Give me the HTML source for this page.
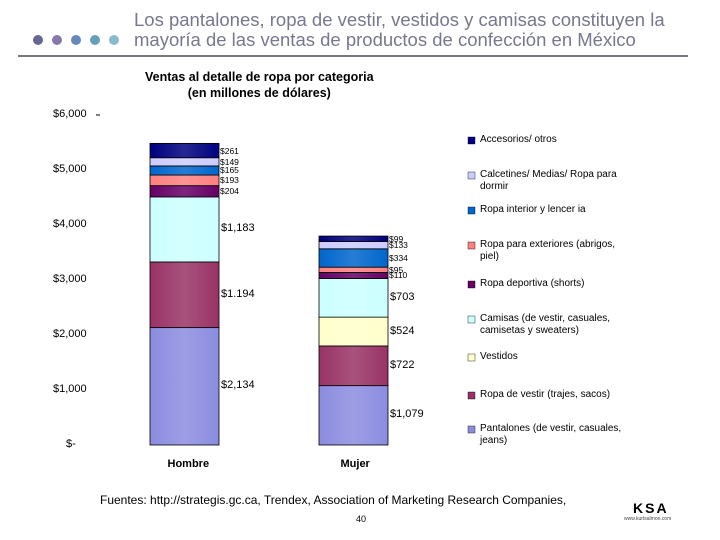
<!DOCTYPE html>
<html><head><meta charset="utf-8"><style>
body{margin:0;background:#fff;font-family:"Liberation Sans",sans-serif;}
#wrap{position:relative;width:720px;height:540px;overflow:hidden;}
.t{position:absolute;white-space:nowrap;}
</style></head><body>
<div id="wrap">
<svg width="720" height="540" style="position:absolute;left:0;top:0">
<defs>
</defs>
<g>
<circle cx="38" cy="40" r="5" fill="#666699"/><circle cx="57" cy="40" r="5" fill="#8877aa"/><circle cx="76" cy="40" r="5" fill="#6688bb"/><circle cx="95" cy="40" r="5" fill="#66a0b8"/><circle cx="114" cy="40" r="5" fill="#88bbcc"/>
</g>
<line x1="18" y1="56" x2="688" y2="56" stroke="#777788" stroke-width="2"/>
<g id="plot"></g>
</svg>
<div class="t" style="left:134px;top:10px;font-size:18.5px;color:#777790;line-height:20px">Los pantalones, ropa de vestir, vestidos y camisas constituyen la<br>mayoría de las ventas de productos de confección en México</div>
<div class="t" style="left:145px;top:69px;font-size:12.5px;font-weight:bold;text-align:center;line-height:16px">Ventas al detalle de ropa por categoria<br>(en millones de dólares)</div>
<div class="t" style="left:100px;top:493px;font-size:12px">Fuentes: http://strategis.gc.ca, Trendex, Association of Marketing Research Companies,</div>
<div class="t" style="left:356px;top:514px;font-size:9px">40</div>
<div class="t" style="left:633px;top:500px;font-size:14px;font-weight:bold;letter-spacing:2px">KSA</div>
<div class="t" style="left:624px;top:516px;font-size:5px;color:#444">www.kurtsalmon.com</div>
</div>
<script>
const categories=["Hombre","Mujer"];
const seriesNames=["Pantalones (de vestir, casuales, jeans)","Ropa de vestir (trajes, sacos)","Vestidos","Camisas (de vestir, casuales, camisetas y sweaters)","Ropa deportiva (shorts)","Ropa para exteriores (abrigos, piel)","Ropa interior y lencer ia","Calcetines/ Medias/ Ropa para dormir","Accesorios/ otros"];
const hombreValues=[2134,1194,0,1183,204,193,166,149,261];
const mujerValues=[1079,722,524,703,110,95,334,133,99];
const hombreLabels=["$2,134","$1.194","","$1,183","$204","$193","$165","$149","$261"];
const mujerLabels=["$1,079","$722","$524","$703","$110","$95","$334","$133","$99"];
const yTicks=[0,1000,2000,3000,4000,5000,6000];
const yTickLabels=["$-","$1,000","$2,000","$3,000","$4,000","$5,000","$6,000"];
const colors=["#8c8ce0","#993366","#ffffcc","#ccffff","#660066","#ff8080","#0066cc","#ccccff","#000080"];
const ns="http://www.w3.org/2000/svg";
const plot=document.getElementById('plot');
const wrap=document.getElementById('wrap');
function y(v){return 445-v*0.055;}
const barX=[150,319], barW=69;
function mk(tag,attrs,parent){const e=document.createElementNS(ns,tag);for(const k in attrs)e.setAttribute(k,attrs[k]);(parent||plot).appendChild(e);return e;}
function txt(s,l,t,fs,bold){const d=document.createElement('div');d.className='t';d.style.left=l+'px';d.style.top=t+'px';d.style.fontSize=fs+'px';if(bold)d.style.fontWeight='bold';d.textContent=s;wrap.appendChild(d);return d;}
const defs=document.querySelector('defs');
colors.forEach((c,i)=>{const g=mk('linearGradient',{id:'g'+i,x1:0,x2:1,y1:0,y2:0},defs);
mk('stop',{offset:'0','stop-color':c},g);mk('stop',{offset:'0.5','stop-color':c,'stop-opacity':0.85},g);mk('stop',{offset:'1','stop-color':c},g);});
yTicks.forEach((v,i)=>{const d=txt(yTickLabels[i],i==0?66:53,y(v)-7,11);

});
const tk=mk('line',{x1:96,x2:100,y1:y(6000),y2:y(6000),stroke:'#000'});


[hombreValues,mujerValues].forEach((vals,b)=>{
 const labs=b==0?hombreLabels:mujerLabels;let cum=0;
 vals.forEach((v,i)=>{
  if(v>0){const r=mk('rect',{x:barX[b],y:y(cum+v),width:barW,height:y(cum)-y(cum+v),fill:'url(#g'+i+')',stroke:'#000','stroke-width':0.8});
  
  
  const big=v>400;const mid=y(cum+v/2);
  const d=txt(labs[i],barX[b]+barW+(big?2:1),mid-(big?7:5),big?11:8.5);
  
  }
  cum+=v;});
 const c=txt(categories[b],barX[b]+barW/2-(b==0?17:13),458,11,true);
 
 
});
const legY=[430,396,358,320,285,246,211,176,141];
seriesNames.forEach((n,i)=>{
 const r=mk('rect',{x:468,y:legY[i]-4,width:7,height:7,fill:colors[i],stroke:'#000','stroke-width':0.4});
 
 
 const d=txt(n,480,legY[i]-7,10);d.style.whiteSpace='normal';d.style.width='145px';d.style.lineHeight='12px';
 
 
});
</script>
</body></html>
